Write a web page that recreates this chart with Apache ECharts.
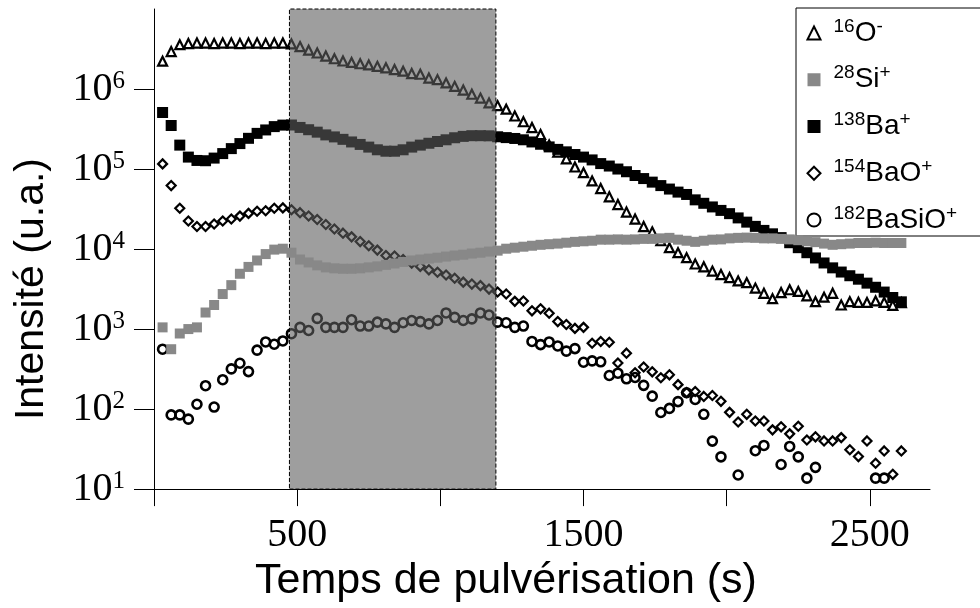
<!DOCTYPE html>
<html><head><meta charset="utf-8">
<script src="https://cdn.jsdelivr.net/npm/echarts@6/dist/echarts.min.js"></script>
<style>html,body{margin:0;padding:0;background:#fff}#c{width:980px;height:608px}</style>
</head><body><div id="c"></div>
<script>
const times = [30,60,90,120,150,180,210,240,270,300,330,360,390,420,450,480,510,540,570,600,630,660,690,720,750,780,810,840,870,900,930,960,990,1020,1050,1080,1110,1140,1170,1200,1230,1260,1290,1320,1350,1380,1410,1440,1470,1500,1530,1560,1590,1620,1650,1680,1710,1740,1770,1800,1830,1860,1890,1920,1950,1980,2010,2040,2070,2100,2130,2160,2190,2220,2250,2280,2310,2340,2370,2400,2430,2460,2490,2520,2550,2580,2610];

const o16 = [2.23e6,2.94e6,3.58e6,3.7e6,3.75e6,3.75e6,3.7e6,3.75e6,3.75e6,3.7e6,
  3.75e6,3.75e6,3.7e6,3.75e6,3.75e6,3.66e6,3.39e6,3.06e6,2.82e6,2.58e6,
  2.39e6,2.24e6,2.15e6,2.07e6,2.0e6,1.92e6,1.84e6,1.75e6,1.67e6,1.56e6,
  1.53e6,1.37e6,1.31e6,1.19e6,1.08e6,9.7e5,8.6e5,7.7e5,6.7e5,6.2e5,
  5.6e5,4.6e5,3.9e5,3.3e5,2.7e5,2.0e5,1.63e5,1.34e5,1.06e5,9.0e4,
  7.1e4,5.7e4,4.5e4,3.6e4,2.9e4,2.37e4,1.91e4,1.64e4,1.27e4,1.04e4,
  9.0e3,7.8e3,6.5e3,6.0e3,5.3e3,4.8e3,4.4e3,4.0e3,3.8e3,3.25e3,
  2.8e3,2.4e3,2.86e3,3.1e3,2.95e3,2.6e3,2.2e3,2.5e3,2.8e3,2.0e3,
  2.2e3,2.16e3,2.15e3,2.25e3,2.16e3,1.98e3,2.14e3];

const si28 = [1.05e3,5.6e2,8.8e2,1.0e3,1.05e3,1.61e3,2.0e3,2.74e3,3.54e3,4.91e3,
  5.98e3,7.2e3,8.65e3,9.84e3,1.01e4,9.0e3,7.4e3,6.8e3,6.25e3,5.9e3,
  5.74e3,5.67e3,5.67e3,5.74e3,5.9e3,6.07e3,6.34e3,6.6e3,6.9e3,7.2e3,
  7.4e3,7.6e3,7.8e3,8.06e3,8.3e3,8.5e3,8.8e3,9.0e3,9.3e3,9.55e3,
  1.01e4,1.04e4,1.07e4,1.1e4,1.13e4,1.15e4,1.17e4,1.2e4,1.23e4,1.25e4,
  1.27e4,1.31e4,1.31e4,1.32e4,1.31e4,1.32e4,1.34e4,1.34e4,1.36e4,1.38e4,
  1.31e4,1.27e4,1.23e4,1.27e4,1.31e4,1.32e4,1.36e4,1.38e4,1.39e4,1.38e4,
  1.36e4,1.36e4,1.34e4,1.32e4,1.29e4,1.25e4,1.22e4,1.17e4,1.13e4,1.15e4,
  1.17e4,1.19e4,1.19e4,1.2e4,1.19e4,1.19e4,1.19e4];

const ba138 = [5.09e5,3.5e5,1.99e5,1.41e5,1.28e5,1.27e5,1.37e5,1.56e5,1.8e5,2.08e5,
  2.42e5,2.79e5,3.08e5,3.39e5,3.54e5,3.55e5,3.31e5,3.1e5,2.89e5,2.67e5,
  2.52e5,2.35e5,2.18e5,2.03e5,1.88e5,1.74e5,1.67e5,1.67e5,1.74e5,1.88e5,
  1.99e5,2.1e5,2.21e5,2.32e5,2.46e5,2.56e5,2.61e5,2.61e5,2.6e5,2.53e5,
  2.47e5,2.41e5,2.32e5,2.18e5,2.04e5,1.89e5,1.76e5,1.64e5,1.52e5,1.41e5,
  1.3e5,1.17e5,1.09e5,1.0e5,9.25e4,8.3e4,7.6e4,6.86e4,6.21e4,5.62e4,
  5.15e4,4.81e4,4.12e4,3.73e4,3.36e4,3.04e4,2.77e4,2.45e4,2.17e4,1.92e4,
  1.71e4,1.55e4,1.39e4,1.2e4,1.04e4,9.0e3,7.74e3,6.7e3,5.82e3,5.16e3,
  4.64e3,4.2e3,3.75e3,3.33e3,2.9e3,2.48e3,2.19e3];

const bao154 = [1.16e5,6.21e4,3.24e4,2.24e4,1.91e4,1.91e4,2.06e4,2.24e4,2.37e4,2.58e4,
  2.79e4,2.97e4,3.01e4,3.24e4,3.27e4,3.1e4,2.85e4,2.59e4,2.34e4,2.03e4,
  1.78e4,1.58e4,1.42e4,1.24e4,1.1e4,9.7e3,8.3e3,8.2e3,7.4e3,6.68e3,
  6.07e3,5.5e3,5.12e3,4.74e3,4.32e3,3.86e3,3.65e3,3.49e3,3.16e3,2.9e3,
  2.74e3,2.22e3,2.24e3,1.69e3,1.79e3,1.58e3,1.24e3,1.14e3,1.02e3,1.05e3,
  665,700,685,377,500,284,336,292,246,268,
  202,161,166,144,148,125,91,69,86,71,
  71,55,60,49,61,41,45,40,40,44,
  31,25.5,40,21,30,15.3,30];

const basio182 = [560,84.6,84.6,74.9,115,196,106,233,318,374,
  294,545,690,646,710,875,1050,960,1360,1050,
  1050,1050,1310,1090,1090,1220,1160,1050,1200,1280,
  1240,1160,1280,1590,1400,1280,1340,1590,1500,1220,
  1200,1050,1090,700,640,690,615,530,570,385,
  400,390,263,281,239,248,198,145,90.6,102,
  124,160,132,86,39.8,25.3,null,15.0,null,30.2,
  35.1,null,20.3,34.1,25.3,13.7,18.7,null,null,null,
  null,null,null,13.7,13.7,null,null];

const seriesNames = ['16O-','28Si+','138Ba+','154BaO+','182BaSiO+'];
const legendLabels = ['{g| }{s|16}{n|O}{s|-}','{g| }{s|28}{n|Si}{s|+}','{g| }{s|138}{n|Ba}{s|+}','{g| }{s|154}{n|BaO}{s|+}','{g| }{s|182}{n|BaSiO}{s|+}'];
const xTickValues = [0,500,1000,1500,2000,2500];
const xLabelValues = [500,1500,2500];
const yTickValues = [10,100,1000,10000,100000,1000000];
const shadeRange = [473,1194];
const xTitle = 'Temps de pulvérisation (s)';
const yTitle = 'Intensité (u.a.)';

function pairs(vals){const out=[];vals.forEach((v,i)=>{if(v!==null)out.push([times[i],v]);});return out;}

const hollow = {color:'rgba(0,0,0,0)',borderColor:'#000',opacity:1};
const chart = echarts.init(document.getElementById('c'),null,{renderer:'canvas'});
chart.setOption({
  animation:false,
  backgroundColor:'#fff',
  grid:{left:154,right:50,top:9,bottom:112,containLabel:false},
  xAxis:{type:'value',min:0,max:2710,
    axisLine:{show:true,onZero:false,lineStyle:{color:'#000',width:1}},
    axisTick:{show:true,length:17,customValues:xTickValues,lineStyle:{color:'#000',width:1}},
    axisLabel:{customValues:xLabelValues,margin:26,fontSize:40,fontFamily:'Liberation Serif',color:'#000',formatter:v=>String(v)},
    splitLine:{show:false},
    name:xTitle,nameLocation:'middle',nameGap:65,
    nameTextStyle:{fontSize:43,fontFamily:'Liberation Sans',color:'#000',padding:[0,72,0,0]}},
  yAxis:{type:'log',logBase:10,min:10,max:1e7,
    axisLine:{show:true,lineStyle:{color:'#000',width:1}},
    axisTick:{show:true,length:20,customValues:yTickValues,lineStyle:{color:'#000',width:1}},
    axisLabel:{customValues:yTickValues,margin:29,
      formatter:v=>'{b|10}{s|'+Math.round(Math.log10(v))+'}',
      rich:{b:{fontSize:40,lineHeight:40,fontFamily:'Liberation Serif',color:'#000'},
            s:{fontSize:25,lineHeight:28,verticalAlign:'top',fontFamily:'Liberation Serif',color:'#000'}}},
    splitLine:{show:false},minorTick:{show:false},
    name:yTitle,nameLocation:'middle',nameGap:102,nameRotate:90,
    nameTextStyle:{fontSize:41,fontFamily:'Liberation Sans',color:'#000',padding:[0,80,0,0]}},
  legend:{orient:'vertical',left:796,top:8,itemWidth:13,itemHeight:13,itemGap:14.75,
    padding:[9,40,0,10.5],borderColor:'#000',borderWidth:1,backgroundColor:'#fff',
    selectedMode:false,data:seriesNames,
    formatter:name=>legendLabels[seriesNames.indexOf(name)],
    textStyle:{lineHeight:32,rich:{
      g:{width:8,fontSize:10,lineHeight:32},
      n:{fontSize:28,lineHeight:32,fontFamily:'Liberation Sans',color:'#000'},
      s:{fontSize:19,lineHeight:10,verticalAlign:'top',fontFamily:'Liberation Sans',color:'#000'}}}},
  series:[
    {name:seriesNames[0],type:'scatter',symbol:'triangle',symbolSize:9,z:2,
      itemStyle:Object.assign({borderWidth:2.2},hollow),data:pairs(o16)},
    {name:seriesNames[1],type:'scatter',symbol:'rect',symbolSize:10,z:6,
      itemStyle:{color:'#888',opacity:1},data:pairs(si28)},
    {name:seriesNames[2],type:'scatter',symbol:'rect',symbolSize:11,z:2,
      itemStyle:{color:'#000',opacity:1},data:pairs(ba138)},
    {name:seriesNames[3],type:'scatter',symbol:'diamond',symbolSize:9,z:2,
      itemStyle:Object.assign({borderWidth:2.2},hollow),data:pairs(bao154)},
    {name:seriesNames[4],type:'scatter',symbol:'circle',symbolSize:9,z:2,
      itemStyle:Object.assign({borderWidth:2.6},hollow),data:pairs(basio182)},
    {name:'zone',type:'scatter',data:[],z:5,silent:true,
      markArea:{silent:true,z:5,
        itemStyle:{color:'rgba(93,93,93,0.6)',borderColor:'#000',borderWidth:1,borderType:'dashed'},
        data:[[{xAxis:shadeRange[0]},{xAxis:shadeRange[1]}]]}}
  ]
});
</script></body></html>
